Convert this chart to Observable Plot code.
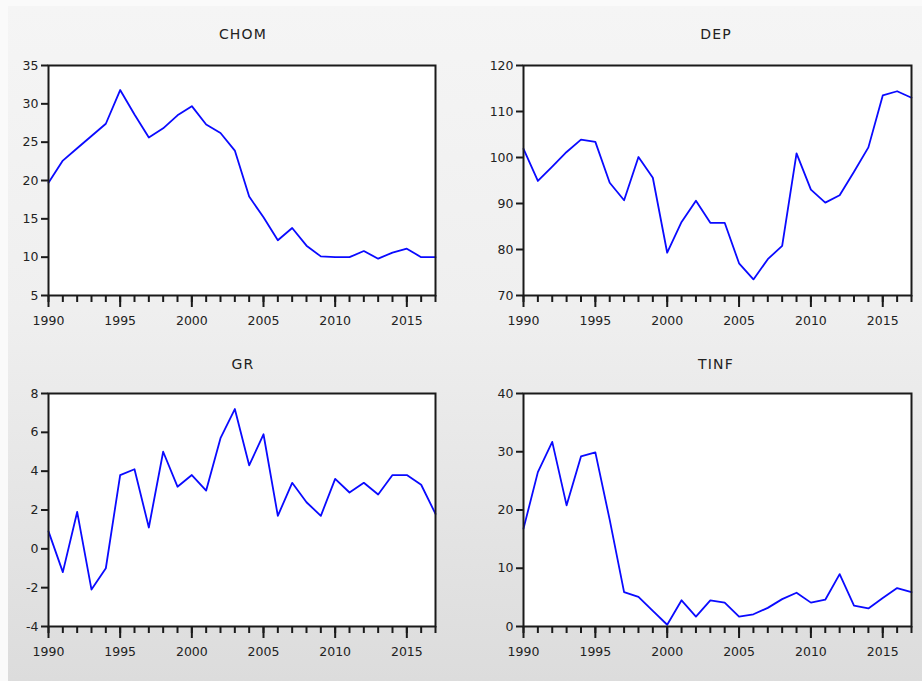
<!DOCTYPE html>
<html>
<head>
<meta charset="utf-8">
<script src="https://cdn.jsdelivr.net/npm/d3@7"></script>
<script src="https://cdn.jsdelivr.net/npm/@observablehq/plot@0.6"></script>
<style>
  html, body { margin: 0; padding: 0; background: #ffffff; }
  #wrap { position: relative; width: 922px; height: 681px; overflow: hidden; background: #fafafa; }
  #bg { position: absolute; left: 8px; top: 6px; width: 914px; height: 675px;
        background: linear-gradient(#f5f5f5 0%, #efefef 45%, #dcdcdc 100%); }
  .panel { position: absolute; }
  .panel svg { background: transparent !important; overflow: visible; }
  .title { position: absolute; font-family: "DejaVu Sans", sans-serif; font-size: 14px;
           letter-spacing: 1.2px; color: #222; transform: translate(-50%, -50%); white-space: nowrap; }
</style>
</head>
<body>
<div id="wrap"><div id="bg"></div></div>
<script>
const years = d3.range(1990, 2018);
const yearLabels = [1990, 1995, 2000, 2005, 2010, 2015];

const chom = [19.7, 22.6, 24.2, 25.8, 27.4, 31.8, 28.6, 25.6, 26.8, 28.5, 29.7, 27.3, 26.2, 23.9,
              17.9, 15.2, 12.2, 13.8, 11.5, 10.1, 10.0, 10.0, 10.8, 9.8, 10.6, 11.1, 10.0, 10.0];
const dep = [101.9, 94.9, 98.0, 101.2, 103.9, 103.4, 94.5, 90.7, 100.1, 95.6, 79.3, 86.0, 90.6, 85.8,
             85.8, 77.0, 73.5, 77.9, 80.8, 100.9, 93.0, 90.2, 91.8, 96.9, 102.2, 113.5, 114.4, 113.0];
const gr = [0.9, -1.2, 1.9, -2.1, -1.0, 3.8, 4.1, 1.1, 5.0, 3.2, 3.8, 3.0, 5.7, 7.2,
            4.3, 5.9, 1.7, 3.4, 2.4, 1.7, 3.6, 2.9, 3.4, 2.8, 3.8, 3.8, 3.3, 1.8];
const tinf = [16.8, 26.5, 31.7, 20.8, 29.2, 29.9, 18.3, 5.9, 5.1, 2.7, 0.3, 4.5, 1.7, 4.5,
              4.1, 1.7, 2.1, 3.2, 4.7, 5.8, 4.1, 4.6, 9.0, 3.6, 3.1, 4.9, 6.6, 5.9];

const chomTicks = [5, 10, 15, 20, 25, 30, 35];
const depTicks = [70, 80, 90, 100, 110, 120];
const grTicks = [-4, -2, 0, 2, 4, 6, 8];
const tinfTicks = [0, 10, 20, 30, 40];

const panels = [
  {name: "CHOM", values: chom, ticks: chomTicks, left: 0,   top: 40,  ml: 48, mr: 26, mt: 25, mb: 45, tx: 243, ty: 34},
  {name: "DEP",  values: dep,  ticks: depTicks,  left: 461, top: 40,  ml: 62, mr: 11, mt: 25, mb: 45, tx: 716, ty: 34},
  {name: "GR",   values: gr,   ticks: grTicks,   left: 0,   top: 370, ml: 48, mr: 26, mt: 23, mb: 44, tx: 243, ty: 364},
  {name: "TINF", values: tinf, ticks: tinfTicks, left: 461, top: 370, ml: 62, mr: 11, mt: 23, mb: 44, tx: 716, ty: 364}
];

const wrap = document.getElementById("wrap");

for (const p of panels) {
  const data = years.map((y, i) => ({year: y, value: p.values[i]}));
  const lo = p.ticks[0], hi = p.ticks[p.ticks.length - 1];
  const chart = Plot.plot({
    width: 461,
    height: 300,
    marginLeft: p.ml,
    marginRight: p.mr,
    marginTop: p.mt,
    marginBottom: p.mb,
    style: {fontFamily: "DejaVu Sans, sans-serif", fontSize: "12.5px", color: "#222", background: "transparent"},
    x: {domain: [1990, 2017], nice: false, label: null},
    y: {domain: [lo, hi], nice: false, label: null},
    marks: [
      Plot.frame({fill: "white", stroke: null}),
      Plot.line(data, {x: "year", y: "value", stroke: "#0a0aff", strokeWidth: 1.8}),
      Plot.frame({stroke: "#1a1a1a", strokeWidth: 2}),
      Plot.axisX({ticks: years, tickSize: 7, text: null, label: null, stroke: "#1a1a1a", strokeWidth: 2}),
      Plot.axisX({ticks: yearLabels, tickSize: 12, tickPadding: 9, tickFormat: d => String(d), label: null,
                  stroke: "#1a1a1a", strokeWidth: 2, fill: "#222"}),
      Plot.axisY({ticks: p.ticks, tickSize: 7, tickPadding: 3, tickFormat: d => String(d), label: null,
                  stroke: "#1a1a1a", strokeWidth: 2, fill: "#222"})
    ]
  });
  const div = document.createElement("div");
  div.className = "panel";
  div.style.left = p.left + "px";
  div.style.top = p.top + "px";
  div.appendChild(chart);
  wrap.appendChild(div);

  const t = document.createElement("div");
  t.className = "title";
  t.style.left = p.tx + "px";
  t.style.top = p.ty + "px";
  t.textContent = p.name;
  wrap.appendChild(t);
}
</script>
</body>
</html>
